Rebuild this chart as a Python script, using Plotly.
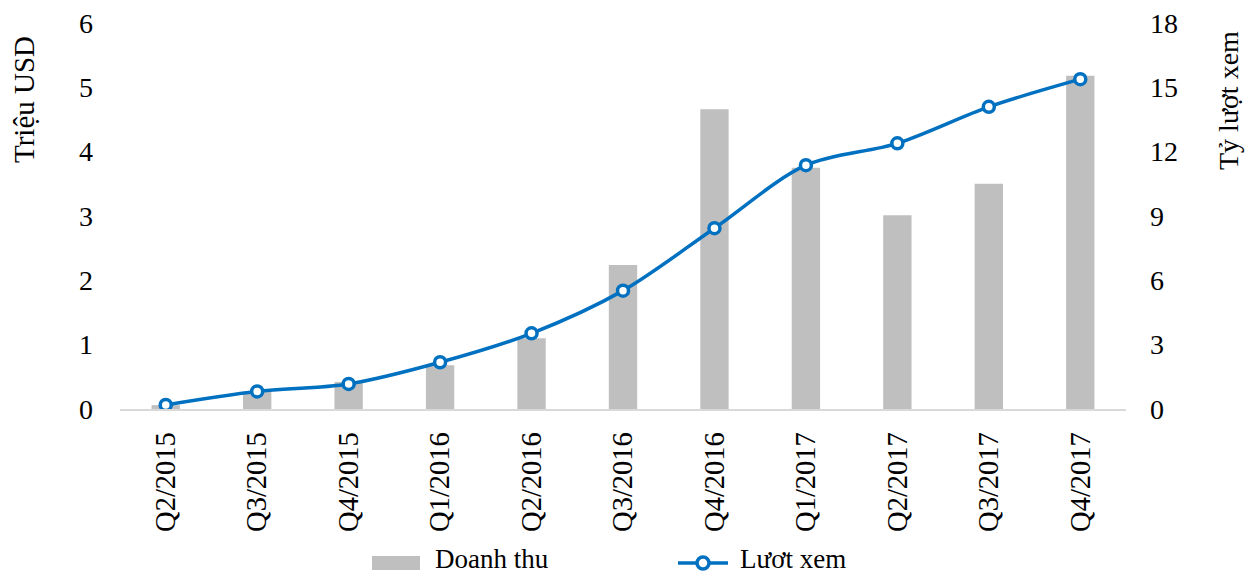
import plotly.graph_objects as go

quarters = ["Q2/2015", "Q3/2015", "Q4/2015", "Q1/2016", "Q2/2016", "Q3/2016",
            "Q4/2016", "Q1/2017", "Q2/2017", "Q3/2017", "Q4/2017"]
doanh_thu = [0.06, 0.27, 0.42, 0.68, 1.10, 2.24, 4.66, 3.75, 3.01, 3.50, 5.18]
luot_xem = [0.19, 0.82, 1.17, 2.18, 3.53, 5.52, 8.43, 11.37, 12.39, 14.09, 15.38]

FONT = "Liberation Serif, Times New Roman, serif"
BAR_COLOR = "#BFBFBF"
LINE_COLOR = "#0070C0"
W, H = 1247, 576
ML, MR, MT, MB = 120, 121, 23, 167
PW = W - ML - MR
PH = H - MT - MB

fig = go.Figure()
fig.add_trace(go.Bar(
    x=quarters, y=doanh_thu, name="Doanh thu",
    marker=dict(color=BAR_COLOR, line=dict(width=0)),
    width=0.31, yaxis="y",
))
fig.add_trace(go.Scatter(
    x=quarters, y=luot_xem, name="Lươt xem", yaxis="y2",
    mode="lines+markers",
    line=dict(color=LINE_COLOR, width=3.5, shape="spline", smoothing=0.9),
    marker=dict(symbol="circle", size=11, color="white",
                line=dict(color=LINE_COLOR, width=3.5)),
))

def px2paper_x(px):
    return (px - ML) / PW

def px2paper_y(py):
    return (H - MB - py) / PH

# manual legend (Excel style)
LEG_Y = 563
TXT_Y = 559
shapes = [
    dict(type="rect", xref="paper", yref="paper",
         x0=px2paper_x(372), x1=px2paper_x(420),
         y0=px2paper_y(570), y1=px2paper_y(556),
         fillcolor=BAR_COLOR, line=dict(width=0)),
    dict(type="line", xref="paper", yref="paper",
         x0=px2paper_x(678), x1=px2paper_x(728),
         y0=px2paper_y(LEG_Y), y1=px2paper_y(LEG_Y),
         line=dict(color=LINE_COLOR, width=3.5)),
    dict(type="circle", xref="paper", yref="paper",
         x0=px2paper_x(697), x1=px2paper_x(709),
         y0=px2paper_y(LEG_Y + 6), y1=px2paper_y(LEG_Y - 6),
         fillcolor="white", line=dict(color=LINE_COLOR, width=3.5)),
]

annotations = [
    dict(text="Triệu USD", textangle=-90, xref="paper", yref="paper",
         x=px2paper_x(24), y=px2paper_y(100), showarrow=False,
         xanchor="center", yanchor="middle",
         font=dict(family=FONT, size=29, color="black")),
    dict(text="Tỷ lượt xem", textangle=-90, xref="paper", yref="paper",
         x=px2paper_x(1228), y=px2paper_y(101), showarrow=False,
         xanchor="center", yanchor="middle",
         font=dict(family=FONT, size=28, color="black")),
    dict(text="Doanh thu", xref="paper", yref="paper",
         x=px2paper_x(433), y=px2paper_y(TXT_Y), showarrow=False,
         xanchor="left", yanchor="middle",
         font=dict(family=FONT, size=27, color="black")),
    dict(text="Lươt xem", xref="paper", yref="paper",
         x=px2paper_x(738), y=px2paper_y(TXT_Y), showarrow=False,
         xanchor="left", yanchor="middle",
         font=dict(family=FONT, size=27, color="black")),
]

fig.update_layout(
    width=W, height=H,
    margin=dict(l=ML, r=MR, t=MT, b=MB, pad=0),
    paper_bgcolor="white", plot_bgcolor="white",
    font=dict(family=FONT, size=28, color="black"),
    showlegend=False,
    xaxis=dict(
        type="category", tickangle=-90, showgrid=False, automargin=False,
        showline=True, linecolor="#D9D9D9", linewidth=1.5,
        ticks="", ticklabelstandoff=10,
        tickfont=dict(family=FONT, size=28.5, color="black"),
        range=[-0.5, len(quarters) - 0.5],
    ),
    yaxis=dict(
        range=[0, 6], dtick=1, showgrid=False, zeroline=False, automargin=False,
        showline=False, ticks="", ticklabelstandoff=26,
        tickfont=dict(family=FONT, size=28, color="black"),
    ),
    yaxis2=dict(
        range=[0, 18], dtick=3, overlaying="y", side="right", automargin=False,
        showgrid=False, zeroline=False, showline=False, ticks="",
        ticklabelstandoff=23,
        tickfont=dict(family=FONT, size=28, color="black"),
    ),
    shapes=shapes,
    annotations=annotations,
)

fig.write_html("out.html")
